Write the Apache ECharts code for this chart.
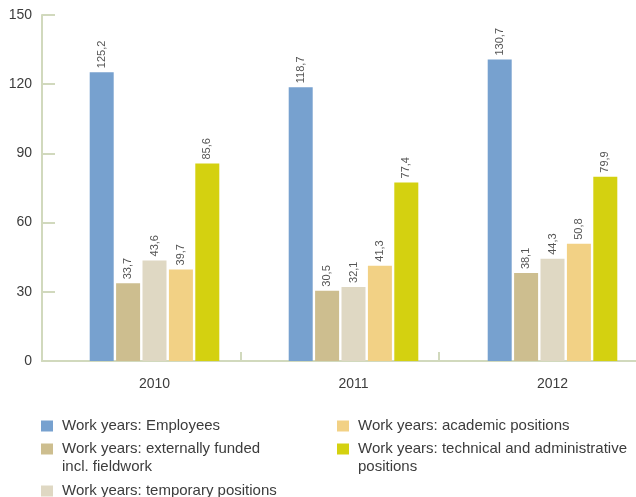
<!DOCTYPE html>
<html>
<head>
<meta charset="utf-8">
<script src="https://cdn.jsdelivr.net/npm/echarts@6/dist/echarts.min.js"></script>
<style>
html,body{margin:0;padding:0;background:#fff;}
#chart{width:636px;height:497px;}
</style>
</head>
<body>
<div id="chart"></div>
<script>
const categories = ['2010', '2011', '2012'];
const seriesNames = [
  'Work years: Employees',
  'Work years: externally funded incl. fieldwork',
  'Work years: temporary positions',
  'Work years: academic positions',
  'Work years: technical and administrative positions'
];
const employees = [125.2, 118.7, 130.7];
const externallyFunded = [33.7, 30.5, 38.1];
const temporary = [43.6, 32.1, 44.3];
const academic = [39.7, 41.3, 50.8];
const technicalAdmin = [85.6, 77.4, 79.9];
const yTicks = { min: 0, max: 150, interval: 30 };

const colors = ['#77a1cf', '#cdbe8f', '#dfd8c3', '#f2d185', '#d4d110'];
const seriesData = [employees, externallyFunded, temporary, academic, technicalAdmin];
const axisColor = '#d1d9bd';
const font = 'Liberation Sans, Arial, sans-serif';
const narrow = '"Liberation Sans Narrow", "Liberation Sans", sans-serif';

const legendText = {
  'Work years: externally funded incl. fieldwork': '\nWork years: externally funded\nincl. fieldwork',
  'Work years: technical and administrative positions': '\nWork years: technical and administrative\npositions'
};
const legendPos = [
  { left: 41, top: 417 },
  { left: 41, top: 422 },
  { left: 41, top: 482 },
  { left: 337, top: 417 },
  { left: 337, top: 422 }
];

const chart = echarts.init(document.getElementById('chart'), null, { renderer: 'canvas' });

const legends = seriesNames.map((n, i) => ({
  data: [n],
  left: legendPos[i].left,
  top: legendPos[i].top,
  padding: 0,
  itemWidth: 12,
  itemHeight: 11,
  icon: 'rect',
  selectedMode: false,
  formatter: name => legendText[name] || name,
  textStyle: { fontFamily: font, fontSize: 15, color: '#3c3c3c', lineHeight: 18, padding: [0, 0, 0, 4] }
}));

const option = {
  animation: false,
  backgroundColor: '#fff',
  legend: legends,
  grid: [
    { left: 42, width: 595, top: 15, height: 346, outerBoundsMode: 'none', containLabel: false },
    { left: 55, width: 597, top: 15, height: 346, outerBoundsMode: 'none', containLabel: false }
  ],
  xAxis: [
    {
      type: 'category', gridIndex: 0, data: categories, boundaryGap: true,
      axisLine: { show: true, lineStyle: { color: axisColor, width: 2 } },
      axisTick: { show: true, inside: true, length: 9, interval: 0, lineStyle: { color: axisColor, width: 2 } },
      axisLabel: { show: false }
    },
    {
      type: 'category', gridIndex: 1, data: categories, boundaryGap: true,
      axisLine: { show: false }, axisTick: { show: false },
      axisLabel: { fontFamily: font, fontSize: 14, color: '#3c3c3c', margin: 16 }
    }
  ],
  yAxis: [
    {
      type: 'value', gridIndex: 0, min: yTicks.min, max: yTicks.max, interval: yTicks.interval,
      splitLine: { show: false },
      axisLine: { show: true, lineStyle: { color: axisColor, width: 2 } },
      axisTick: { show: true, inside: true, length: 13, lineStyle: { color: axisColor, width: 2 } },
      axisLabel: { fontFamily: font, fontSize: 14, color: '#3c3c3c', margin: 10 }
    },
    {
      type: 'value', gridIndex: 1, min: yTicks.min, max: yTicks.max, interval: yTicks.interval,
      show: false, splitLine: { show: false }
    }
  ],
  series: seriesNames.map((n, i) => ({
    name: n,
    type: 'bar',
    xAxisIndex: 1,
    yAxisIndex: 1,
    data: seriesData[i],
    barWidth: 24,
    barGap: '10%',
    itemStyle: { color: colors[i] },
    label: {
      show: true,
      position: 'top',
      rotate: 90,
      align: 'left',
      verticalAlign: 'middle',
      distance: 4,
      fontFamily: narrow,
      fontSize: 11,
      color: '#555',
      formatter: p => p.value.toFixed(1).replace('.', ',')
    }
  }))
};
chart.setOption(option);
</script>
</body>
</html>
